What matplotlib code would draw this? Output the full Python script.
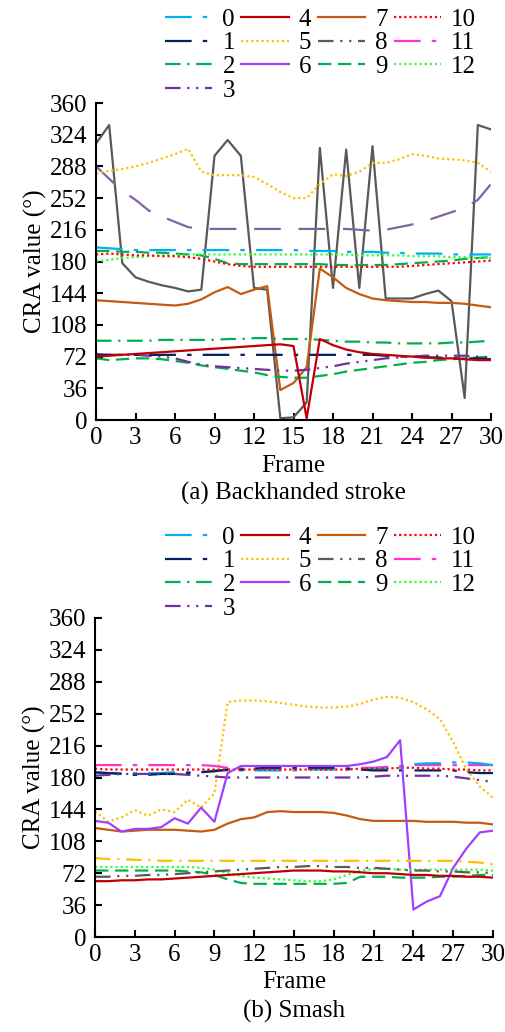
import matplotlib
matplotlib.use("Agg")
import matplotlib.pyplot as plt
from matplotlib.lines import Line2D
import numpy as np

plt.rcParams["font.family"] = ["Liberation Serif", "DejaVu Serif"]
plt.rcParams["font.size"] = 18

frames = np.arange(31)

# legend entries (same in both panels)
legend_labels = ["0", "1", "2", "3", "4", "5", "6", "7", "8", "9", "10", "11", "12"]
legend_colors = ["#00b0f0", "#002060", "#00b050", "#7030a0", "#c00000", "#ffc000",
                 "#a040ff", "#c55a11", "#595959", "#00b050", "#ff0000", "#ff33cc", "#33ff33"]
LDSD = (12, 5, 2, 5)
DD = (7, 3, 1, 3)
DDD = (7, 3, 1, 3, 1, 3)
DOT = (1, 1.3)
DASH = (6, 3)
legend_dashes = [LDSD, LDSD, DD, DDD, None, DOT, None, None, DDD, DASH, DOT, LDSD, DOT]

# ---- (a) Backhanded stroke ----
a_s0 = [196, 195, 194, 193, 193, 193, 193, 193, 193, 193, 193, 193, 193, 193, 193, 193,
        192, 192, 192, 191, 191, 191, 190, 190, 189, 189, 189, 188, 188, 188, 188]
a_s1 = [73, 74, 74, 74, 74, 74, 74, 74, 74, 74, 74, 74, 74, 74, 74, 74,
        74, 74, 74, 74, 74, 74, 73, 72, 72, 71, 71, 70, 70, 70, 69]
a_s2 = [90, 90, 90, 90, 90, 91, 91, 91, 91, 91, 92, 92, 93, 93, 92, 92,
        92, 91, 90, 89, 89, 88, 88, 87, 87, 87, 87, 88, 88, 89, 90]
a_s3 = [75, 74, 74, 74, 73, 72, 70, 66, 63, 61, 60, 59, 58, 57, 56, 56,
        57, 59, 61, 64, 66, 68, 70, 71, 72, 73, 73, 73, 73, 72, 71]
a_s4 = [72, 73, 74, 75, 76, 77, 78, 79, 80, 81, 82, 83, 84, 85, 86, 84,
        2, 92, 85, 80, 77, 75, 74, 73, 72, 71, 70, 70, 69, 68, 68]
a_s5 = [280, 283, 285, 288, 292, 297, 302, 308, 282, 278, 278, 278, 276, 268, 259, 252,
        252, 268, 279, 277, 282, 292, 292, 296, 302, 300, 297, 296, 295, 292, 282]
a_s7 = [136, 135, 134, 133, 132, 131, 130, 132, 137, 145, 151, 143, 148, 152, 34, 42,
        60, 172, 162, 150, 143, 138, 136, 135, 134, 134, 133, 133, 132, 130, 128]
a_s8 = [314, 335, 178, 162, 157, 153, 150, 146, 148, 300, 318, 300, 150, 148, 2, 3,
        20, 309, 150, 307, 150, 311, 138, 138, 138, 143, 147, 135, 25, 335, 330]
a_s9 = [70, 68, 69, 70, 70, 69, 67, 65, 62, 60, 58, 56, 54, 51, 49, 48,
        48, 50, 52, 55, 57, 59, 61, 63, 65, 66, 68, 69, 70, 71, 72]
a_s9b = [192, 192, 191, 191, 190, 190, 189, 188, 187, 183, 178, 177, 177, 177, 177, 177,
         177, 177, 176, 176, 176, 176, 176, 177, 178, 179, 180, 181, 183, 184, 185]
a_s10 = [188, 189, 188, 187, 187, 186, 186, 185, 183, 180, 177, 175, 174, 174, 174, 174,
         174, 174, 174, 174, 174, 174, 174, 174, 175, 176, 177, 178, 179, 180, 181]
a_s12 = [180, 182, 184, 185, 186, 187, 187, 188, 188, 188, 188, 188, 188, 188, 188, 188,
         188, 188, 188, 188, 187, 187, 187, 187, 186, 186, 186, 185, 185, 184, 184]
a_extra = [288, 274, 260, 250, 238, 231, 225, 219, 217, 217, 217, 217, 217, 217, 217, 217,
           217, 217, 217, 217, 216, 215, 216, 219, 222, 226, 231, 236, 241, 250, 268]

# ---- (b) Smash ----
b_s0 = [185, 185, 185, 185, 185, 185, 186, 186, 186, 188, 188, 188, 188, 188, 188, 188,
        189, 189, 189, 189, 189, 190, 190, 191, 195, 196, 196, 197, 197, 196, 194]
b_s1 = [186, 185, 184, 183, 183, 184, 184, 185, 186, 187, 189, 189, 190, 191, 191, 191,
        191, 191, 191, 190, 189, 188, 188, 188, 188, 188, 188, 188, 186, 185, 185]
b_s3 = [182, 183, 184, 184, 184, 184, 184, 183, 182, 181, 180, 180, 180, 180, 180, 180,
        180, 180, 180, 180, 180, 181, 182, 182, 182, 182, 182, 181, 179, 177, 175]
b_s4 = [63, 63, 64, 64, 65, 65, 66, 67, 68, 69, 70, 71, 72, 73, 74, 75,
        75, 75, 74, 74, 73, 72, 72, 71, 70, 70, 69, 69, 68, 68, 67]
b_s5 = [142, 130, 135, 143, 137, 144, 141, 155, 146, 162, 265, 267, 267, 266, 264, 262,
        260, 259, 259, 260, 263, 268, 271, 270, 265, 257, 246, 220, 189, 170, 157]
b_s6 = [131, 129, 119, 122, 122, 124, 134, 128, 146, 130, 185, 193, 193, 193, 193, 193,
        193, 193, 193, 193, 195, 198, 203, 222, 31, 40, 46, 78, 100, 118, 120]
b_s7 = [123, 121, 119, 120, 121, 121, 121, 120, 119, 121, 128, 133, 135, 141, 142, 141,
        141, 141, 140, 137, 133, 131, 131, 131, 131, 130, 130, 130, 129, 129, 127]
b_s8 = [68, 68, 69, 69, 70, 70, 71, 72, 73, 74, 75, 76, 77, 78, 79, 79,
        80, 80, 79, 79, 78, 78, 77, 76, 75, 75, 74, 74, 73, 73, 72]
b_s9 = [75, 75, 75, 75, 75, 75, 75, 74, 73, 70, 65, 61, 60, 60, 60, 60,
        60, 60, 60, 61, 68, 68, 68, 67, 67, 67, 68, 68, 69, 70, 70]
b_s10 = [190, 189, 189, 189, 189, 189, 189, 189, 189, 189, 189, 189, 189, 189, 189, 189,
         189, 189, 189, 189, 190, 190, 190, 191, 191, 190, 190, 189, 189, 188, 188]
b_s11 = [194, 194, 194, 194, 194, 194, 194, 194, 194, 193, 191, 190, 190, 190, 190, 190,
         190, 190, 190, 190, 191, 191, 192, 193, 194, 194, 194, 194, 194, 194, 194]
b_s12 = [79, 79, 79, 79, 79, 79, 79, 79, 78, 76, 72, 69, 67, 66, 65, 64,
         63, 63, 65, 70, 75, 77, 77, 76, 76, 76, 76, 76, 76, 76, 75]
b_extra = [89, 88, 88, 87, 87, 86, 86, 86, 86, 86, 86, 86, 86, 86, 86, 86,
           86, 86, 86, 86, 86, 86, 86, 86, 86, 86, 86, 86, 85, 84, 82]

panel_a = [
    (a_s8, "#595959", None),
    (a_extra, "#8064a2", (12, 8)),
    (a_s5, "#ffc000", DOT),
    (a_s0, "#00b0f0", LDSD),
    (a_s9b, "#00b050", DASH),
    (a_s12, "#33ff33", DOT),
    (a_s10, "#ff0000", DOT),
    (a_s7, "#c55a11", None),
    (a_s2, "#00b050", DD),
    (a_s9, "#00b050", DASH),
    (a_s3, "#7030a0", DDD),
    (a_s1, "#002060", LDSD),
    (a_s4, "#c00000", None),
]
panel_b = [
    (b_s5, "#ffc000", DOT),
    (b_s11, "#ff33cc", LDSD),
    (b_s0, "#00b0f0", LDSD),
    (b_s1, "#002060", LDSD),
    (b_s10, "#ff0000", DOT),
    (b_s3, "#7030a0", DDD),
    (b_s7, "#c55a11", None),
    (b_s6, "#a040ff", None),
    (b_extra, "#ffc000", DD),
    (b_s12, "#33ff33", DOT),
    (b_s9, "#00b050", DASH),
    (b_s8, "#595959", DDD),
    (b_s4, "#c00000", None),
]

W, H = 506, 1032
fig = plt.figure(figsize=(W / 100, H / 100), dpi=100)


def px_axes(l, r, t, b):
    return fig.add_axes([l / W, 1 - b / H, (r - l) / W, (b - t) / H])


def legend_handles():
    hs = []
    for lab, c, d in zip(legend_labels, legend_colors, legend_dashes):
        h = Line2D([], [], color=c, lw=1.6, label=lab)
        if d is not None:
            h.set_dashes(d)
        hs.append(h)
    return hs


def draw_panel(ax, series, caption, leg_top):
    for vals, c, d in series:
        ln, = ax.plot(frames, vals, color=c, lw=1.6)
        if d is not None:
            ln.set_dashes(d)
    ax.set_xlim(0, 30)
    ax.set_ylim(0, 360)
    ax.set_xticks(range(0, 31, 3))
    ax.set_yticks(range(0, 361, 36))
    for s in ["top", "right"]:
        ax.spines[s].set_visible(False)
    for s in ["left", "bottom"]:
        ax.spines[s].set_linewidth(1.5)
    ax.tick_params(direction="in", length=5, width=1.5, labelsize=18)
    ax.tick_params(axis="y", pad=6)
    ax.tick_params(axis="x", pad=5)
    ax.set_xlabel("Frame", fontsize=18, labelpad=4)
    ax.set_ylabel("CRA value (°)", fontsize=18, labelpad=2)
    ax.text(0.5, -0.232, caption, transform=ax.transAxes, ha="center", va="center", fontsize=18)
    fig.legend(handles=legend_handles(), ncols=4, loc="upper left",
               bbox_to_anchor=(165 / W, 1 - leg_top / H), frameon=False,
               borderpad=0, borderaxespad=0, handlelength=1.9, handletextpad=0.4,
               columnspacing=0.25, labelspacing=0.05, fontsize=18)


ax1 = px_axes(96, 491, 103, 420)
draw_panel(ax1, panel_a, "(a) Backhanded stroke", 8)
ax2 = px_axes(95, 493, 618, 937)
draw_panel(ax2, panel_b, "(b) Smash", 526)

fig.savefig("out.png", dpi=100)
